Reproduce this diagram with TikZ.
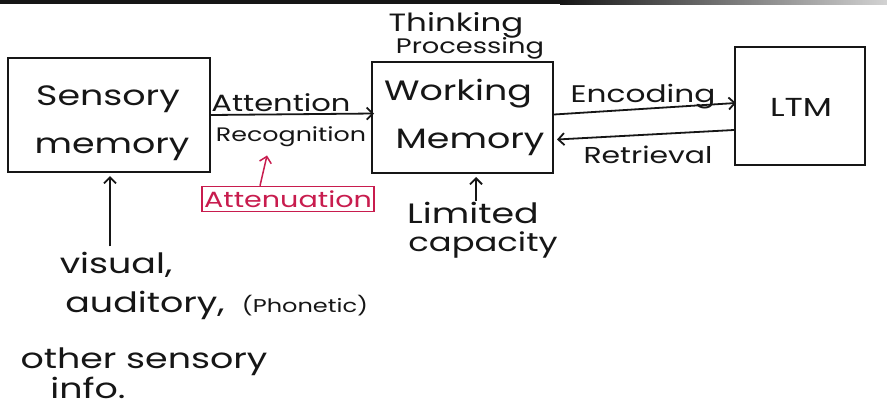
\documentclass[tikz,border=0pt]{standalone}
\usepackage{fontspec}
\setmainfont{Poppins}[FakeStretch=1.3]
\usetikzlibrary{arrows.meta,calc}
\definecolor{ink}{RGB}{22,22,22}
\definecolor{redink}{RGB}{200,28,78}
\newcommand{\fs}[1]{\fontsize{#1}{#1}\selectfont}
\begin{document}
\begin{tikzpicture}[x=1pt,y=-1pt,
  hand/.style={font=\fs{28}, text=ink, inner sep=0pt, anchor=base},
  note/.style={font=\fs{23}, text=ink, inner sep=0pt, anchor=base},
  box/.style={draw=ink, line width=2pt, inner sep=0pt},
  arr/.style={draw=ink, line width=1.8pt, -{Straight Barb[length=6pt,width=12pt]}},
  redarr/.style={draw=redink, line width=1.5pt, -{Straight Barb[length=6pt,width=12pt]}},
]
\useasboundingbox (0,0) rectangle (887,410);
\fill[white] (0,0) rectangle (887,410);
% dark band along the top edge
\fill[ink] (0,0) rectangle (560,4);
\shade[left color=ink, right color=gray!35] (560,0) rectangle (887,4);

% boxes
\node[box, minimum width=202pt, minimum height=114pt] (sm)  at (109,115) {};
\node[box, minimum width=181pt, minimum height=111pt] (wm)  at (462.5,117.5) {};
\node[box, minimum width=130pt, minimum height=118pt] (ltm) at (800,106) {};

% box labels
\node[hand] (sm1) at (108,105) {Sensory};
\node[hand] (sm2) at (112,153) {memory};
\node[hand] (wm1) at (458,100) {Working};
\node[hand] (wm2) at (470,148) {Memory};
\node[note, font=\fs{26}] (ltmt) at (801,116) {LTM};

% labels above working memory
\node[note, font=\fs{25}] (think) at (456,31) {Thinking};
\node[note, font=\fs{21}] (proc) at (470,53) {Processing};

% flow between stores
\node[note, font=\fs{23.5}] (att) at (281,111) {Attention};
\node[note, font=\fs{19.5}] (rec) at (291,141) {Recognition};
\draw[arr] (sm.east) -- ($(wm.west)+(3,-4)$);

\node[note, font=\fs{24}] (enc) at (643,102) {Encoding};
\draw[arr] ($(wm.east)+(0,-3)$) -- ($(ltm.west)+(2,-3)$);

\node[note, font=\fs{23}] (ret) at (648,163) {Retrieval};
\draw[arr] ($(ltm.west)+(0,24)$) -- ($(wm.east)+(3,22)$);

% attenuation filter
\node[draw=redink, line width=1.5pt, text=redink, font=\fs{22}, anchor=center,
      inner xsep=2pt, inner ysep=4pt] (atn) at (288,199) {Attenuation};
\coordinate (atip) at ($(rec.south)+(-24,9)$);
\draw[redarr] ($(atn.north)+(-28,0)$) -- (atip);

% capacity of working memory
\node[hand] (lim) at (473,223) {Limited};
\node[hand, font=\fs{26}] (cap) at (483,251) {capacity};
\draw[arr, shorten >=3pt] ($(lim.north)+(3,0)$) -- ($(wm.south)+(13.5,0)$);

% sensory input
\node[hand] (vis) at (116,273) {visual,};
\node[hand] (aud) at (145,312) {auditory,};
\node[note, font=\fs{18.5}] (pho) at (305,312) {(Phonetic)};
\node[hand] (oth) at (144,368) {other sensory};
\node[hand] (inf) at (88,398) {info.};
\draw[arr, shorten <=5pt, shorten >=3pt] ($(vis.north)+(-6,0)$) -- ($(sm.south)+(1,0)$);
\end{tikzpicture}
\end{document}
